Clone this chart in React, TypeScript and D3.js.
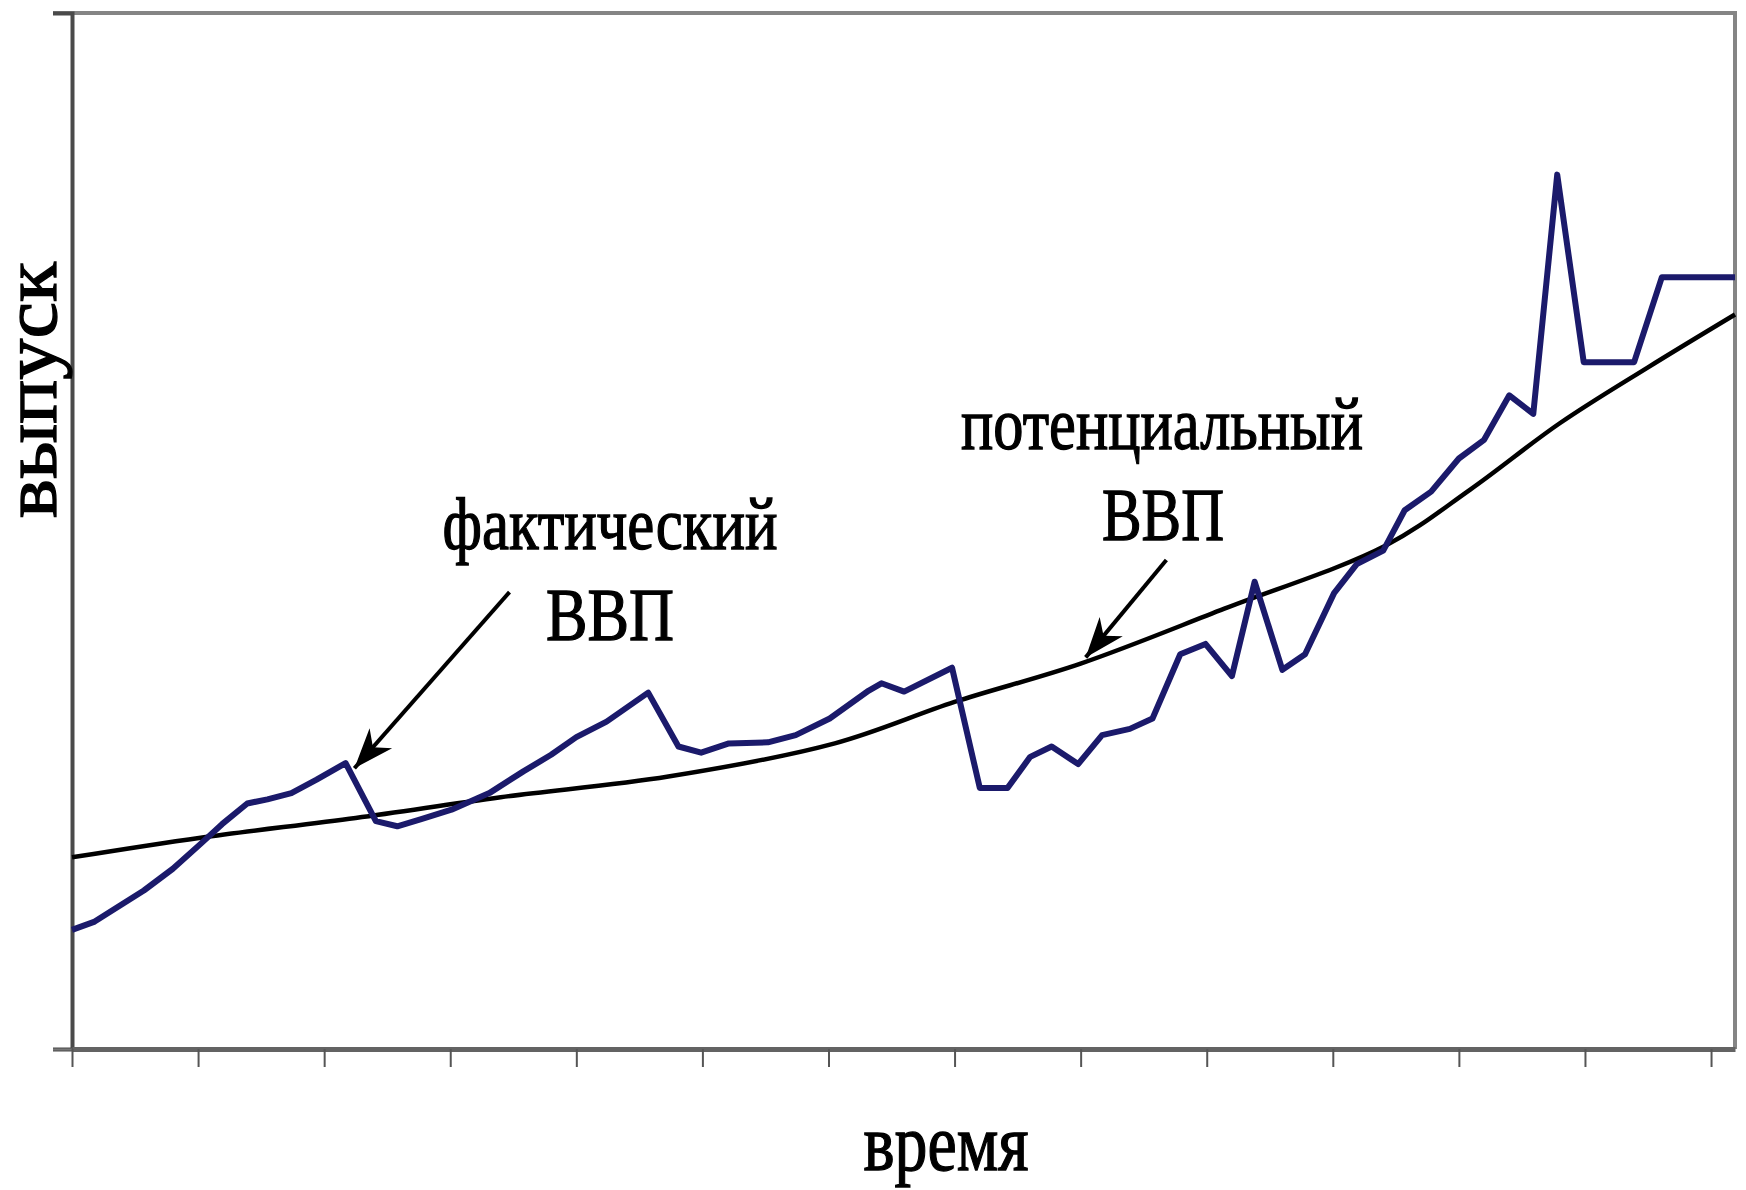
import React, { useRef, useEffect } from "react";
import * as d3 from "d3";

const W = 1746;
const H = 1190;
const left = 72;
const right = 1735;
const top = 13;
const bottom = 1049;

// time ticks (no labels on the axis)
const timeTicks = [0, 1, 2, 3, 4, 5, 6, 7, 8, 9, 10, 11, 12, 13];

// actual GDP (фактический ВВП)
const actualT = [
  0, 0.18, 0.4, 0.57, 0.8, 1.02, 1.19, 1.39, 1.55, 1.74, 1.94, 2.17, 2.41, 2.58, 2.77, 3.01,
  3.31, 3.58, 3.8, 4.0, 4.24, 4.57, 4.81, 4.99, 5.21, 5.52, 5.74, 6.01, 6.32, 6.42, 6.6, 6.98,
  7.2, 7.42, 7.6, 7.77, 7.98, 8.17, 8.39, 8.57, 8.79, 8.99, 9.2, 9.38, 9.6, 9.78, 10.01, 10.19,
  10.4, 10.57, 10.78, 11.0, 11.2, 11.4, 11.59, 11.78, 11.99, 12.39, 12.61, 13.19
];
const actualY = [
  11.5, 12.3, 14.0, 15.3, 17.4, 19.8, 21.7, 23.7, 24.1, 24.7, 26.0, 27.6, 22.0, 21.5, 22.2, 23.1,
  24.7, 26.8, 28.4, 30.1, 31.6, 34.4, 29.2, 28.6, 29.5, 29.6, 30.3, 31.9, 34.6, 35.3, 34.5, 36.8,
  25.2, 25.2, 28.2, 29.2, 27.5, 30.3, 30.9, 31.9, 38.1, 39.1, 36.0, 45.1, 36.6, 38.1, 44.0, 46.8,
  48.1, 52.0, 53.8, 57.0, 58.8, 63.1, 61.3, 84.4, 66.3, 66.3, 74.5, 74.5
];

// potential GDP (потенциальный ВВП)
const potentialT = [0, 1.02, 2.25, 3.4, 4.73, 6.05, 7.0, 8.0, 9.14, 10.42, 11.09, 11.8, 12.5, 13.19];
const potentialY = [18.5, 20.4, 22.3, 24.3, 26.3, 29.5, 33.5, 37.2, 42.5, 48.6, 54.0, 60.4, 65.8, 70.9];

// annotation arrows: [fromT, fromY, toT, toY]
const arrowActual = [3.47, 44.1, 2.24, 27.1];
const arrowPotential = [8.68, 47.2, 8.04, 37.8];

export default function App() {
  const ref = useRef<SVGSVGElement | null>(null);

  useEffect(() => {
    const svg = d3.select(ref.current);
    svg.selectAll("*").remove();

    const x = d3.scaleLinear().domain([0, 13.19]).range([left, right]);
    const y = d3.scaleLinear().domain([0, 100]).range([bottom, top]);

    svg.append("rect").attr("width", W).attr("height", H).attr("fill", "#fff");

    const defs = svg.append("defs");
    defs
      .append("marker")
      .attr("id", "head")
      .attr("viewBox", "-44 -18 48 36")
      .attr("markerWidth", 48)
      .attr("markerHeight", 36)
      .attr("markerUnits", "userSpaceOnUse")
      .attr("refX", 0)
      .attr("refY", 0)
      .attr("orient", "auto")
      .append("path")
      .attr("d", "M0,0 L-40,-15 L-28,0 L-40,15 Z")
      .attr("fill", "#000");

    // frame: top and right
    svg
      .append("path")
      .attr("d", `M${left - 19},${top}H${right}V${bottom}`)
      .attr("fill", "none")
      .attr("stroke", "#858585")
      .attr("stroke-width", 4);

    // y axis
    const gy = svg
      .append("g")
      .attr("transform", `translate(${left},0)`)
      .call(d3.axisLeft(y).tickValues([0]).tickSize(19).tickFormat(() => ""));
    gy.select(".domain").attr("stroke", "#4a4a4a").attr("stroke-width", 4);
    gy.selectAll(".tick line").attr("stroke", "#777").attr("stroke-width", 2);

    // x axis
    const gx = svg
      .append("g")
      .attr("transform", `translate(0,${bottom})`)
      .call(d3.axisBottom(x).tickValues(timeTicks).tickSize(18).tickSizeOuter(0).tickFormat(() => ""));
    gx.select(".domain").attr("stroke", "#636363").attr("stroke-width", 5);
    gx.selectAll(".tick line").attr("stroke", "#555").attr("stroke-width", 2);

    // potential GDP curve
    const potLine = d3
      .line<number>()
      .x((_, i) => x(potentialT[i]))
      .y((d) => y(d))
      .curve(d3.curveCatmullRom.alpha(0.5));
    svg
      .append("path")
      .attr("d", potLine(potentialY))
      .attr("fill", "none")
      .attr("stroke", "#000")
      .attr("stroke-width", 4.5);

    // actual GDP line
    const actLine = d3
      .line<number>()
      .x((_, i) => x(actualT[i]))
      .y((d) => y(d));
    svg
      .append("path")
      .attr("d", actLine(actualY))
      .attr("fill", "none")
      .attr("stroke", "#1b1a6b")
      .attr("stroke-width", 6)
      .attr("stroke-linejoin", "round");

    // arrows
    [arrowActual, arrowPotential].forEach((a) => {
      svg
        .append("line")
        .attr("x1", x(a[0]))
        .attr("y1", y(a[1]))
        .attr("x2", x(a[2]))
        .attr("y2", y(a[3]))
        .attr("stroke", "#000")
        .attr("stroke-width", 4)
        .attr("marker-end", "url(#head)");
    });

    const font = "'Liberation Serif', 'Times New Roman', serif";
    const label = (txt: string, cx: number, by: number, len: number, size: number) =>
      svg
        .append("text")
        .attr("x", cx - len / 2)
        .attr("y", by)
        .attr("textLength", len)
        .attr("lengthAdjust", "spacingAndGlyphs")
        .attr("font-family", font)
        .attr("font-size", size)
        .attr("fill", "#000")
        .attr("stroke", "#000")
        .attr("stroke-width", 1.3)
        .text(txt);

    label("фактический", 610, 549, 335, 74);
    label("ВВП", 610, 640, 128, 74);
    label("потенциальный", 1162, 449, 402, 74);
    label("ВВП", 1163, 540, 122, 74);
    label("время", 946, 1170, 165, 80);

    svg
      .append("text")
      .attr("transform", `translate(56,${518}) rotate(-90)`)
      .attr("textLength", 256)
      .attr("lengthAdjust", "spacingAndGlyphs")
      .attr("font-family", font)
      .attr("font-size", 76)
      .attr("fill", "#000")
      .attr("stroke", "#000")
      .attr("stroke-width", 1.3)
      .text("выпуск");
  }, []);

  return (
    <div style={{ position: "absolute", left: 0, top: 0 }}>
      <svg ref={ref} width={W} height={H} />
    </div>
  );
}
